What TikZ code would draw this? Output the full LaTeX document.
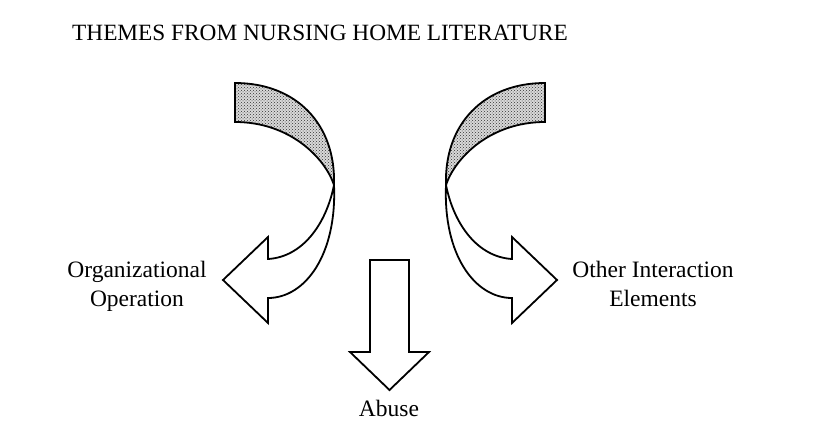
\documentclass[tikz,border=0pt]{standalone}
\usepackage{fontspec}
\setmainfont{Liberation Serif}
\usetikzlibrary{patterns}

% one curled arrow, turning from its back side to its front side
\newcommand\curlarrow{%
  \path[backside] (235,83) .. controls (297,83) and (336,125) .. (334,185)
    .. controls (325,158) and (290,122) .. (235,122) -- cycle;
  \path[frontside] (334,185) .. controls (337,255) and (305,298) .. (268,298)
    -- (268,323) -- (223,280) -- (268,237) -- (268,259)
    .. controls (302,257) and (326,225) .. (334,185) -- cycle;
}

\begin{document}
\begin{tikzpicture}[
  x=1pt, y=-1pt,
  outline/.style={draw=black, line width=1.8pt, line join=miter},
  backside/.style={outline, preaction={fill=gray!30},
    pattern=crosshatch dots, pattern color=black!80},
  frontside/.style={outline, fill=white},
  theme/.style={font=\fontsize{23.5}{29}\selectfont, align=center, inner sep=0pt}
]
  \useasboundingbox (0,0) rectangle (818,428);

  \node[font=\fontsize{23.3}{28}\selectfont, anchor=base west, inner sep=0pt] (title) at (72,41)
    {THEMES FROM NURSING HOME LITERATURE};

  % curled arrows
  \curlarrow
  \begin{scope}[xshift=780pt, xscale=-1]
    \curlarrow
  \end{scope}

  % straight arrow down
  \path[frontside] (370,260) -- (409,260) -- (409,352) -- (429,352)
    -- (389.5,390) -- (350,352) -- (370,352) -- cycle;

  \node[theme, anchor=north] (orgop) at (137,261) {Organizational\\Operation};
  \node[theme, anchor=north] (other) at (653,261) {Other Interaction\\Elements};
  \node[theme, anchor=base] (abuse) at (389,416) {Abuse};
\end{tikzpicture}
\end{document}
